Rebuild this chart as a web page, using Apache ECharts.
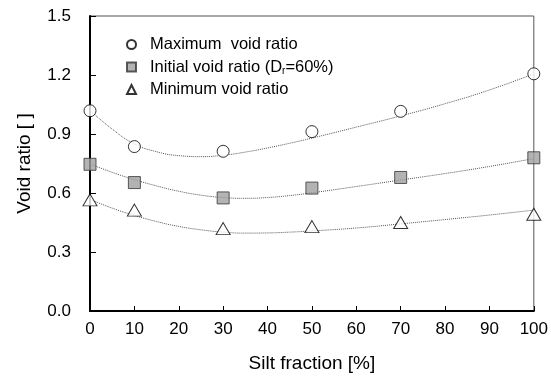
<!DOCTYPE html>
<html>
<head>
<meta charset="utf-8">
<script src="https://cdn.jsdelivr.net/npm/echarts@6/dist/echarts.min.js"></script>
<style>
  html, body { margin: 0; padding: 0; background: #fff; }
  #chart { width: 551px; height: 378px; }
</style>
</head>
<body>
<div id="chart"></div>
<script>
// measured points
const silt = [0, 10, 30, 50, 70, 100]
const eMax = [1.018, 0.836, 0.812, 0.912, 1.015, 1.206]
const eInit = [0.746, 0.653, 0.575, 0.625, 0.679, 0.779]
const eMin = [0.565, 0.513, 0.419, 0.429, 0.45, 0.492]

// fitted trend curves
const fitX = [0, 5, 10, 15, 20, 25, 30, 35, 40, 45, 50, 60, 70, 80, 90, 100]
const fitMax = [1.02, 0.925, 0.85, 0.81, 0.79, 0.785, 0.792, 0.808, 0.829, 0.853, 0.879, 0.935, 0.992, 1.054, 1.124, 1.206]
const fitInit = [0.748, 0.705, 0.668, 0.636, 0.609, 0.589, 0.577, 0.573, 0.577, 0.587, 0.601, 0.633, 0.666, 0.699, 0.735, 0.775]
const fitMin = [0.567, 0.523, 0.486, 0.455, 0.43, 0.413, 0.401, 0.396, 0.397, 0.401, 0.407, 0.422, 0.443, 0.465, 0.488, 0.513]

const yTicks = [0, 0.3, 0.6, 0.9, 1.2, 1.5]

const font = 'Liberation Sans, Arial, sans-serif'
const pair = (xs, ys) => xs.map((x, i) => [x, ys[i]])

const nameMax = 'Maximum  void ratio'
const nameInit = 'Initial void ratio (Dr=60%)'
const nameMin = 'Minimum void ratio'

const fitLine = (data) => ({
  type: 'line',
  data: data,
  smooth: true,
  symbol: 'none',
  silent: true,
  z: 2,
  lineStyle: { color: '#555', width: 1, type: 'dotted' },
})

const chart = echarts.init(document.getElementById('chart'))
chart.setOption({
  animation: false,
  textStyle: { fontFamily: font },
  grid: { left: 90, right: 15, top: 16, bottom: 61, show: true, borderColor: '#555', borderWidth: 1 },
  legend: {
    data: [nameMax, nameInit, nameMin],
    orient: 'vertical',
    left: 126,
    top: 36,
    padding: 0,
    itemGap: 5,
    itemWidth: 9,
    itemHeight: 9,
    formatter: (name) => {
      if (name === nameInit) return '{a|Initial void ratio (D}{s|r}{b|=60%)}'
      return '{a|' + name + '}'
    },
    textStyle: {
      fontSize: 16.5, color: '#000', fontFamily: font,
      rich: {
        a: { fontSize: 16.5, color: '#000', fontFamily: font, lineHeight: 18, padding: [0, 0, 0, 9] },
        b: { fontSize: 16.5, color: '#000', fontFamily: font, lineHeight: 18 },
        s: { fontSize: 10, color: '#000', fontFamily: font, verticalAlign: 'bottom', lineHeight: 18, padding: [8, 0, 0, 0] },
      },
    },
  },
  xAxis: {
    type: 'value',
    min: 0, max: 100, interval: 10,
    name: 'Silt fraction [%]',
    nameLocation: 'middle',
    nameGap: 43,
    nameTextStyle: { fontSize: 19, color: '#000', fontFamily: font },
    axisLine: { lineStyle: { color: '#000', width: 2 } },
    axisTick: { inside: true, length: 5, lineStyle: { color: '#000', width: 1 } },
    axisLabel: { fontSize: 17, color: '#000', margin: 10 },
    splitLine: { show: false },
  },
  yAxis: {
    type: 'value',
    min: yTicks[0], max: yTicks[yTicks.length - 1], interval: 0.3,
    name: 'Void ratio [ ]',
    nameLocation: 'middle',
    nameGap: 56,
    nameTextStyle: { fontSize: 19, color: '#000', fontFamily: font },
    axisLine: { show: true, lineStyle: { color: '#000', width: 2 } },
    axisTick: { show: true, inside: true, length: 6, lineStyle: { color: '#000', width: 1 } },
    axisLabel: { fontSize: 17, color: '#000', margin: 19, formatter: (v) => v.toFixed(1) },
    splitLine: { show: false },
  },
  series: [
    fitLine(pair(fitX, fitMax)),
    fitLine(pair(fitX, fitInit)),
    fitLine(pair(fitX, fitMin)),
    {
      name: nameMax, type: 'scatter', data: pair(silt, eMax), clip: false, z: 5,
      symbol: 'circle', symbolSize: 12,
      itemStyle: { color: '#fff', borderColor: '#000', borderWidth: 1 },
    },
    {
      name: nameInit, type: 'scatter', data: pair(silt, eInit), clip: false, z: 5,
      symbol: 'rect', symbolSize: 12,
      itemStyle: { color: '#a0a0a0', borderColor: '#333', borderWidth: 1 },
    },
    {
      name: nameMin, type: 'scatter', data: pair(silt, eMin), clip: false, z: 5,
      symbol: 'triangle', symbolSize: [14, 12],
      itemStyle: { color: '#fff', borderColor: '#000', borderWidth: 1 },
    },
  ],
})
</script>
</body>
</html>
